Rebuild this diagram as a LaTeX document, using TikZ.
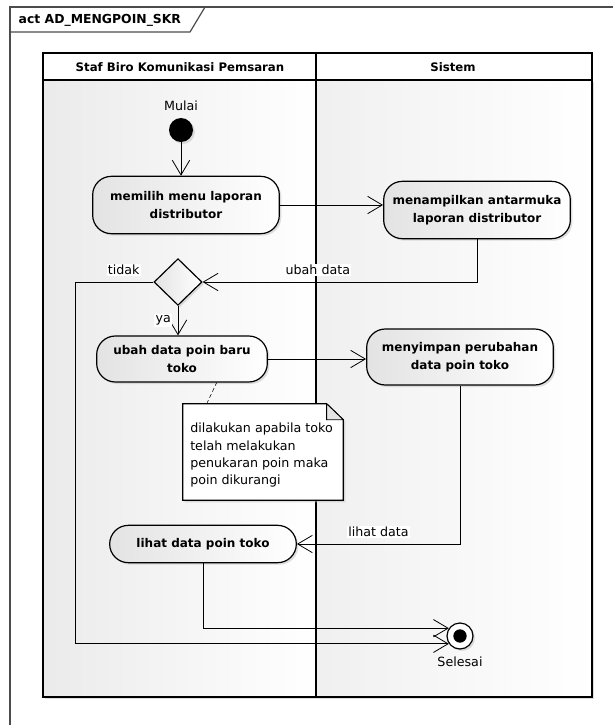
\documentclass[tikz,border=0pt]{standalone}
\usepackage{fontspec}
\setmainfont{DejaVu Sans}
\usetikzlibrary{arrows.meta,shapes.geometric,shadows,positioning}
\begin{document}
\begin{tikzpicture}[x=0.75pt,y=-0.75pt,font=\fontsize{9.5}{13}\selectfont,
    shade/.style={drop shadow={shadow xshift=1.5pt,shadow yshift=-1.5pt,fill=gray!50}},
    act/.style={draw,line width=0.9pt,rounded corners=14pt,align=center,inner sep=2pt,
      font=\fontsize{9}{13.5}\selectfont\bfseries,left color=gray!22,right color=white,shade},
    dec/.style={diamond,draw,line width=0.9pt,aspect=1,inner sep=0pt,minimum width=36pt,
      minimum height=35pt,left color=gray!22,right color=white,shade},
    flow/.style={semithick,-{Straight Barb[length=11pt,width=13pt,line width=0.6pt]}},
    lbl/.style={fill=white,inner sep=1pt}]
  \useasboundingbox (0,0) rectangle (613,725);
  \fill[white] (0,0) rectangle (613,725);
  % frame and tab
  \draw[line width=1.4pt,black!70] (10,740) -- (10,7) -- (630,7);
  \draw[line width=0.9pt,black!70] (10,32) -- (190,32) -- (205,7);
  \node[anchor=west,font=\fontsize{9.3}{10}\selectfont\bfseries] (title) at (14,20) {act AD\_MENGPOIN\_SKR};
  % lanes
  \shade[left color=gray!16,right color=white] (43,80) rectangle (316,697);
  \shade[left color=gray!12,right color=white] (316,80) rectangle (592,697);
  \draw[line width=1.2pt] (43,53) rectangle (592,697) (43,80) -- (592,80) (316,53) -- (316,697);
  \node[font=\fontsize{8.8}{10}\selectfont\bfseries] (lane1) at (180,67) {Staf Biro Komunikasi Pemsaran};
  \node[font=\fontsize{8.8}{10}\selectfont\bfseries] (lane2) at (453,67) {Sistem};
  % nodes
  \node[circle,fill=black,minimum size=18pt,inner sep=0pt,shade,
    label={[label distance=2pt]above:Mulai}] (start) at (181,130) {};
  \node[act,minimum width=140pt,minimum height=43pt] (act1) at (186,205) {memilih menu laporan\\distributor};
  \node[act,minimum width=140pt,minimum height=43pt] (act2) at (477,210) {menampilkan antarmuka\\laporan distributor};
  \node[dec] (dec) at (178,282) {};
  \node[act,minimum width=128pt,minimum height=34.5pt] (act3) at (182,359) {ubah data poin baru\\toko};
  \node[act,minimum width=140pt,minimum height=42pt] (act4) at (460,357) {menyimpan perubahan\\data poin toko};
  \node[act,minimum width=140pt,minimum height=28pt] (act5) at (203,544) {lihat data poin toko};
  \node[circle,draw,line width=0.9pt,fill=white,minimum size=19.5pt,inner sep=0pt,shade,
    label={[label distance=2pt]below:Selesai}] (fin) at (460,636) {};
  \node[circle,fill=black,minimum size=10pt,inner sep=0pt] (findot) at (fin) {};
  % note
  \node[minimum width=120pt,minimum height=72pt] (note) at (263,452) {};
  \draw[line width=0.9pt,fill=white,shade] (note.north west) -- ([xshift=-12.5pt]note.north east)
    -- ([yshift=-12pt]note.north east) -- (note.south east) -- (note.south west) -- cycle;
  \filldraw[line width=0.6pt,fill=gray!20] ([xshift=-12.5pt]note.north east)
    -- ([xshift=-12.5pt,yshift=-12pt]note.north east) -- ([yshift=-12pt]note.north east) -- cycle;
  \node[align=left,anchor=north west,inner sep=0pt] (notetext) at (190,423)
    {dilakukan apabila toko\\telah melakukan\\penukaran poin maka\\poin dikurangi};
  \draw[dash pattern=on 3pt off 2pt] ([xshift=18pt]note.north west) -- ([xshift=26pt]act3.south);
  % flows
  \draw[flow] (start) -- (start |- act1.north);
  \draw[flow] (act1.east) -- (act1.east -| act2.west);
  \draw[flow] (act2.south) |- node[lbl,pos=0.79,above=4pt]{ubah data} (dec.east);
  \draw[flow] (dec.west) -- node[lbl,pos=0.38,above=4pt]{tidak} ++(-78,0) |- (fin.215);
  \draw[flow] (dec.south) -- node[lbl,midway,left=4pt]{ya} (dec.south |- act3.north);
  \draw[flow] (act3.east) -- (act3.east -| act4.west);
  \draw[flow] (act4.south) |- node[lbl,pos=0.75,above=4pt]{lihat data} (act5.east);
  \draw[flow] (act5.south) |- (fin.145);
\end{tikzpicture}
\end{document}
